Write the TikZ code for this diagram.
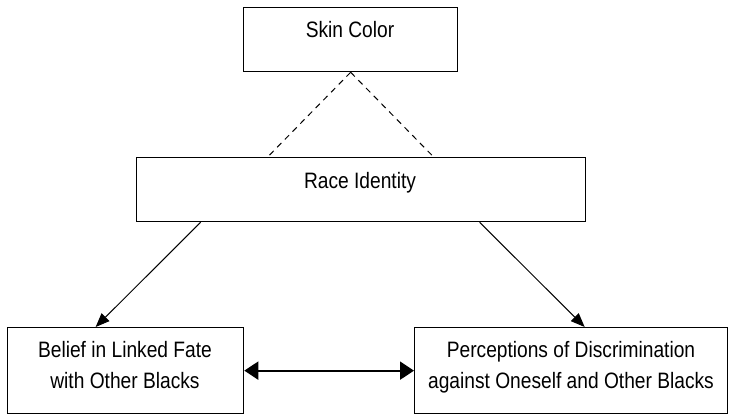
\documentclass[tikz,border=0pt]{standalone}
\usepackage{fontspec}
\setmainfont{Liberation Sans}[FakeStretch=0.86]
\usetikzlibrary{arrows.meta,calc}
\tikzset{
  box/.style={draw=black, line width=1.3pt, rectangle, inner sep=0pt, anchor=north west},
  lbl/.style={anchor=base, inner sep=0pt, font=\fontsize{22.3}{26}\selectfont},
  conn/.style={line width=1pt, -{Triangle[length=14pt,width=11pt]}},
  dconn/.style={line width=2pt, {Triangle[length=14pt,width=18pt]}-{Triangle[length=14pt,width=18pt]}},
  dashline/.style={line width=1pt, dash pattern=on 6pt off 5pt}
}
\begin{document}
\begin{tikzpicture}[x=1pt,y=-1pt]
\useasboundingbox (0,0) rectangle (729,414);
\node[box, minimum width=214pt, minimum height=64pt] (skin) at (243,7) {};
\node[box, minimum width=449pt, minimum height=64pt] (race) at (136,157) {};
\node[box, minimum width=236pt, minimum height=86pt] (belief) at (7,327) {};
\node[box, minimum width=313pt, minimum height=86pt] (perc) at (414,327) {};
\node[lbl] (skint) at (350,38) {Skin Color};
\node[lbl] (racet) at (360,189) {Race Identity};
\node[lbl] (belief1) at (125,358) {Belief in Linked Fate};
\node[lbl] (belief2) at (125,388.5) {with Other Blacks};
\node[lbl] (perc1) at (571,358) {Perceptions of Discrimination};
\node[lbl] (perc2) at (571,388.5) {against Oneself and Other Blacks};
\draw[dashline] (skin.south) -- ([xshift=-93.5pt]race.north);
\draw[dashline] (skin.south) -- ([xshift=72.5pt]race.north);
\draw[conn] ([xshift=-160.5pt]race.south) -- ([xshift=-30pt]belief.north);
\draw[conn] ([xshift=118.5pt]race.south) -- ([xshift=13.5pt]perc.north);
\draw[dconn] (belief.east) -- (perc.west);
\end{tikzpicture}
\end{document}
